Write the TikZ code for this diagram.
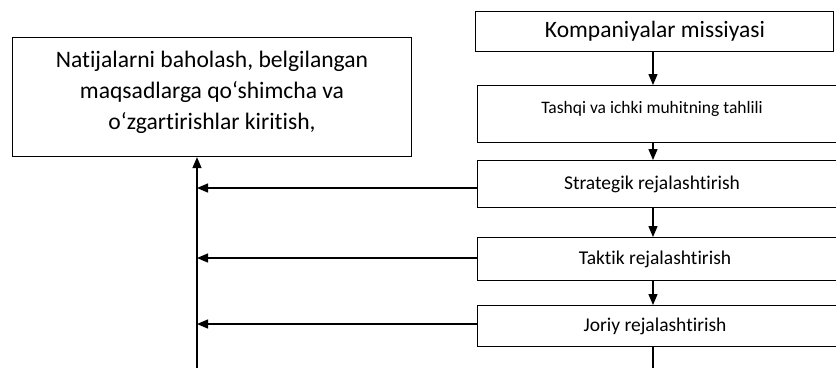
\documentclass[tikz,border=0pt]{standalone}
\usepackage{fontspec}
\setmainfont{Carlito}[Ligatures=NoCommon]
\usetikzlibrary{arrows.meta}
\begin{document}
\begin{tikzpicture}[x=1pt,y=-1pt,
  box/.style={draw=black,line width=1.1pt,inner sep=0pt,anchor=north west},
  lbl/.style={inner sep=0pt,font=\fontsize{19.5}{23}\selectfont},
  conn/.style={line width=1.3pt,-{Triangle[length=11pt,width=9pt]}},
  plain/.style={line width=1.3pt}]
\useasboundingbox (0,0) rectangle (836,368);
\clip (0,0) rectangle (836,368);
% left box
\node[box,minimum width=399pt,minimum height=119pt] (res) at (12,37) {};
\node[inner sep=0pt,align=center,font=\fontsize{23.6}{31}\selectfont] (rest) at (212,92)
  {Natijalarni baholash, belgilangan\\maqsadlarga qo‘shimcha va\\o‘zgartirishlar kiritish,};
% right boxes
\node[box,minimum width=358pt,minimum height=40pt] (komp) at (475,11) {};
\node[inner sep=0pt,font=\fontsize{23.5}{28}\selectfont] (kompt) at (655,31) {Kompaniyalar missiyasi};
\node[box,minimum width=370pt,minimum height=57pt] (tash) at (477,85) {};
\node[inner sep=0pt,font=\fontsize{17.5}{21}\selectfont] (tasht) at (652,109) {Tashqi va ichki muhitning tahlili};
\node[box,minimum width=370pt,minimum height=47pt] (strat) at (477,160) {};
\node[lbl] (stratt) at (652,184) {Strategik rejalashtirish};
\node[box,minimum width=370pt,minimum height=43pt] (takt) at (477,237) {};
\node[lbl] (taktt) at (655,259) {Taktik rejalashtirish};
\node[box,minimum width=370pt,minimum height=41pt] (jor) at (477,305) {};
\node[lbl] (jort) at (655,326) {Joriy rejalashtirish};
% coordinates
\coordinate (cx) at (653,0);
\coordinate (lx) at (197,0);
\coordinate (bot) at (197,368);
\coordinate (jbot) at (653,368);
\coordinate (sy) at (477,188);
\coordinate (ty) at (477,258);
\coordinate (jy) at (477,324);
% vertical chain
\draw[conn] (komp.south -| cx) -- (tash.north -| cx);
\draw[conn] (tash.south -| cx) -- (strat.north -| cx);
\draw[conn] (strat.south -| cx) -- (takt.north -| cx);
\draw[conn] (takt.south -| cx) -- (jor.north -| cx);
\draw[plain] (jor.south -| cx) -- (jbot);
% feedback
\draw[conn] (bot) -- (res.south -| lx);
\draw[conn] (sy) -- (sy -| lx);
\draw[conn] (ty) -- (ty -| lx);
\draw[conn] (jy) -- (jy -| lx);
\end{tikzpicture}
\end{document}
